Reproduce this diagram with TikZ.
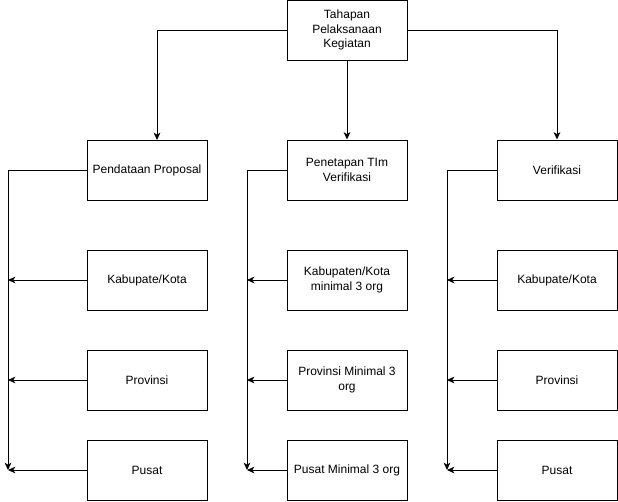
\documentclass[tikz,border=0pt]{standalone}
\usepackage{fontspec}
\setmainfont{Liberation Sans}
\usepackage{tikz}
\usetikzlibrary{calc,positioning,arrows.meta}

\begin{document}
\begin{tikzpicture}[x=0.75pt, y=-0.75pt,
        box/.style={rectangle, draw=black, line width=0.75pt, minimum width=90pt, minimum height=45pt, align=center, inner sep=2pt, font=\fontsize{9}{10.8}\selectfont},
        link/.style={draw=black, line width=0.75pt, -{Stealth[length=5.5pt, width=5pt, inset=1.5pt]}},
    ]
    \useasboundingbox (0,0) rectangle (618,501);
    % top
    \node[box] (tahap) at (347,30) {Tahapan\\Pelaksanaan\\Kegiatan};
    % second row
    \node[box] (data) at (147,170) {Pendataan Proposal};
    \node[box] (tim) at (347,170) {Penetapan TIm\\Verifikasi};
    \node[box] (verif) at (557,170) {Verifikasi};
    % left column
    \node[box] (kab1) at (147,280) {Kabupate/Kota};
    \node[box] (prov1) at (147,380) {Provinsi};
    \node[box] (pus1) at (147,470) {Pusat};
    % middle column
    \node[box] (kab2) at (347,280) {Kabupaten/Kota\\minimal 3 org};
    \node[box] (prov2) at (347,380) {Provinsi Minimal 3\\org};
    \node[box] (pus2) at (347,470) {Pusat Minimal 3 org};
    % right column
    \node[box] (kab3) at (557,280) {Kabupate/Kota};
    \node[box] (prov3) at (557,380) {Provinsi};
    \node[box] (pus3) at (557,470) {Pusat};

    \coordinate (dtop) at (157,140);
    \draw[link] (tahap.west) -| (dtop);
    \draw[link] (tahap.south) -- (tim.north);
    \draw[link] (tahap.east) -| (verif.north);

    % spines
    \coordinate (s1) at (8,470);
    \coordinate (s2) at (247,470);
    \coordinate (s3) at (447,470);
    \draw[link] (data.west) -| (s1);
    \draw[link] (tim.west) -| (s2);
    \draw[link] (verif.west) -| (s3);

    \foreach \b in {kab1,prov1,pus1}
        \draw[link] (\b.west) -- (8,0 |- \b.west);
    \foreach \b in {kab2,prov2,pus2}
        \draw[link] (\b.west) -- (247,0 |- \b.west);
    \foreach \b in {kab3,prov3,pus3}
        \draw[link] (\b.west) -- (447,0 |- \b.west);
\end{tikzpicture}
\end{document}
